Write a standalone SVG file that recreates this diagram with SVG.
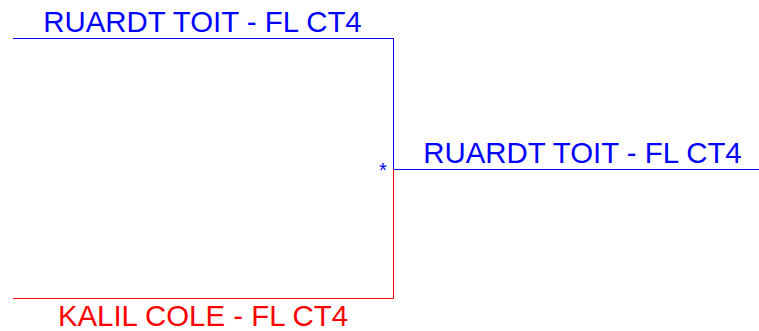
<svg xmlns="http://www.w3.org/2000/svg" width="759" height="331" viewBox="0 0 759 331">
<style>
.t{font-family:"Liberation Sans",Arial,sans-serif;font-size:29.4px;text-anchor:middle}
.b{fill:#0000ff}
.r{fill:#ff0000}
.lb{stroke:#0000ff;stroke-width:1;fill:none}
.lr{stroke:#ff0000;stroke-width:1;fill:none}
</style>
<rect width="759" height="331" fill="#ffffff"/>
<g id="connectors">
<path class="lb" d="M13,38.5 H393.5 V169.5"/>
<path class="lb" d="M393.5,169.5 H759"/>
<path class="lr" d="M393.5,169.5 V298.5 H13"/>
</g>
<g id="father"><text class="t b" x="202.5" y="31.5">RUARDT TOIT - FL CT4</text></g>
<g id="child"><text class="t b" x="582.5" y="163">RUARDT TOIT - FL CT4</text></g>
<g id="mother"><text class="t r" x="203" y="326">KALIL COLE - FL CT4</text></g>
<g id="marker"><text x="383" y="177" style="font-family:'Liberation Sans',Arial,sans-serif;font-size:20px;text-anchor:middle" class="b">*</text></g>
</svg>
